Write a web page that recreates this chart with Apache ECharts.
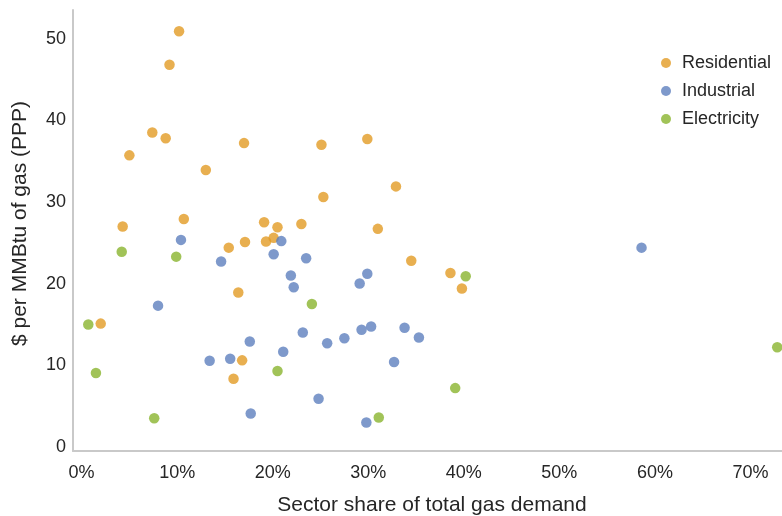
<!DOCTYPE html>
<html>
<head>
<meta charset="utf-8">
<script src="https://cdn.jsdelivr.net/npm/echarts@6/dist/echarts.min.js"></script>
<style>
html,body{margin:0;padding:0;background:#fff;}
#chart{width:782px;height:516px;}
</style>
</head>
<body>
<div id="chart"></div>
<script>
// Sector share of total gas demand (%), price ($ per MMBtu, PPP)
const residentialX = [10.2, 9.2, 7.4, 8.8, 5.0, 17.0, 13.0, 25.1, 29.9, 32.9, 25.3, 10.7, 4.3, 15.4, 17.1, 16.4, 2.0, 16.8, 15.9, 19.1, 20.5, 23.0, 31.0, 19.3, 20.1, 34.5, 38.6, 39.8];
const residentialY = [50.9, 46.8, 38.5, 37.8, 35.7, 37.2, 33.9, 37.0, 37.7, 31.9, 30.6, 27.9, 27.0, 24.4, 25.1, 18.9, 15.1, 10.6, 8.35, 27.5, 26.9, 27.3, 26.7, 25.15, 25.6, 22.8, 21.3, 19.4];

const industrialX = [10.4, 14.6, 8.0, 17.6, 13.4, 15.55, 17.7, 20.9, 20.1, 23.5, 21.9, 22.2, 29.1, 29.9, 23.15, 25.7, 27.5, 29.3, 30.3, 33.8, 35.3, 21.1, 32.7, 24.8, 29.8, 58.6];
const industrialY = [25.35, 22.7, 17.3, 12.9, 10.55, 10.8, 4.1, 25.2, 23.6, 23.1, 21.0, 19.55, 20.0, 21.2, 14.0, 12.7, 13.3, 14.35, 14.75, 14.6, 13.4, 11.65, 10.4, 5.9, 3.0, 24.4];

const electricityX = [4.2, 9.9, 0.7, 1.5, 7.6, 40.2, 24.1, 20.5, 39.1, 31.1, 72.8];
const electricityY = [23.9, 23.3, 15.0, 9.05, 3.5, 20.9, 17.5, 9.3, 7.2, 3.6, 12.2];

const seriesNames = ['Residential', 'Industrial', 'Electricity'];
const xTicks = [0, 10, 20, 30, 40, 50, 60, 70];
const yTicks = [0, 10, 20, 30, 40, 50];
const xTitle = 'Sector share of total gas demand';
const yTitle = '$ per MMBtu of gas (PPP)';

const colors = ['#E29B24', '#5E80BE', '#8AB42E'];
const FONT = "'Liberation Sans', Arial, sans-serif";
const TXT = '#262626';

function pairs(xs, ys) { return xs.map((x, i) => [x, ys[i]]); }

const chart = echarts.init(document.getElementById('chart'), null, {renderer: 'canvas'});
chart.setOption({
  animation: false,
  backgroundColor: '#ffffff',
  color: colors,
  textStyle: {fontFamily: FONT},
  grid: {left: 73, right: 0, top: 10, bottom: 65, containLabel: false, outerBoundsMode: 'none'},
  legend: {
    orient: 'vertical',
    left: 656, top: 49,
    itemWidth: 22, itemHeight: 10, itemGap: 10,
    icon: 'circle',
    data: seriesNames,
    textStyle: {fontSize: 18, color: TXT, fontFamily: FONT}
  },
  xAxis: {
    type: 'value', min: -0.9, max: 73.3,
    name: xTitle, nameLocation: 'middle', nameGap: 44,
    nameTextStyle: {fontSize: 21, color: TXT, fontFamily: FONT, padding: [0, 0, 0, 9]},
    axisLine: {show: true, onZero: false, lineStyle: {color: '#C9C9C9', width: 2}},
    axisTick: {show: false},
    splitLine: {show: false},
    axisLabel: {customValues: xTicks, formatter: '{value}%', fontSize: 18, color: TXT, margin: 13, fontFamily: FONT}
  },
  yAxis: {
    type: 'value', min: -0.5, max: 53.5,
    name: yTitle, nameLocation: 'middle', nameGap: 42, nameRotate: 90,
    nameTextStyle: {fontSize: 21, color: TXT, fontFamily: FONT, padding: [0, 0, 0, 14]},
    axisLine: {show: true, onZero: false, lineStyle: {color: '#C9C9C9', width: 2}},
    axisTick: {show: false},
    splitLine: {show: false},
    axisLabel: {customValues: yTicks, fontSize: 18, color: TXT, margin: 7, padding: [3, 0, 0, 0], fontFamily: FONT}
  },
  series: [
    {name: seriesNames[0], type: 'scatter', symbolSize: 10.5, data: pairs(residentialX, residentialY)},
    {name: seriesNames[1], type: 'scatter', symbolSize: 10.5, data: pairs(industrialX, industrialY)},
    {name: seriesNames[2], type: 'scatter', symbolSize: 10.5, data: pairs(electricityX, electricityY)}
  ]
});
</script>
</body>
</html>
